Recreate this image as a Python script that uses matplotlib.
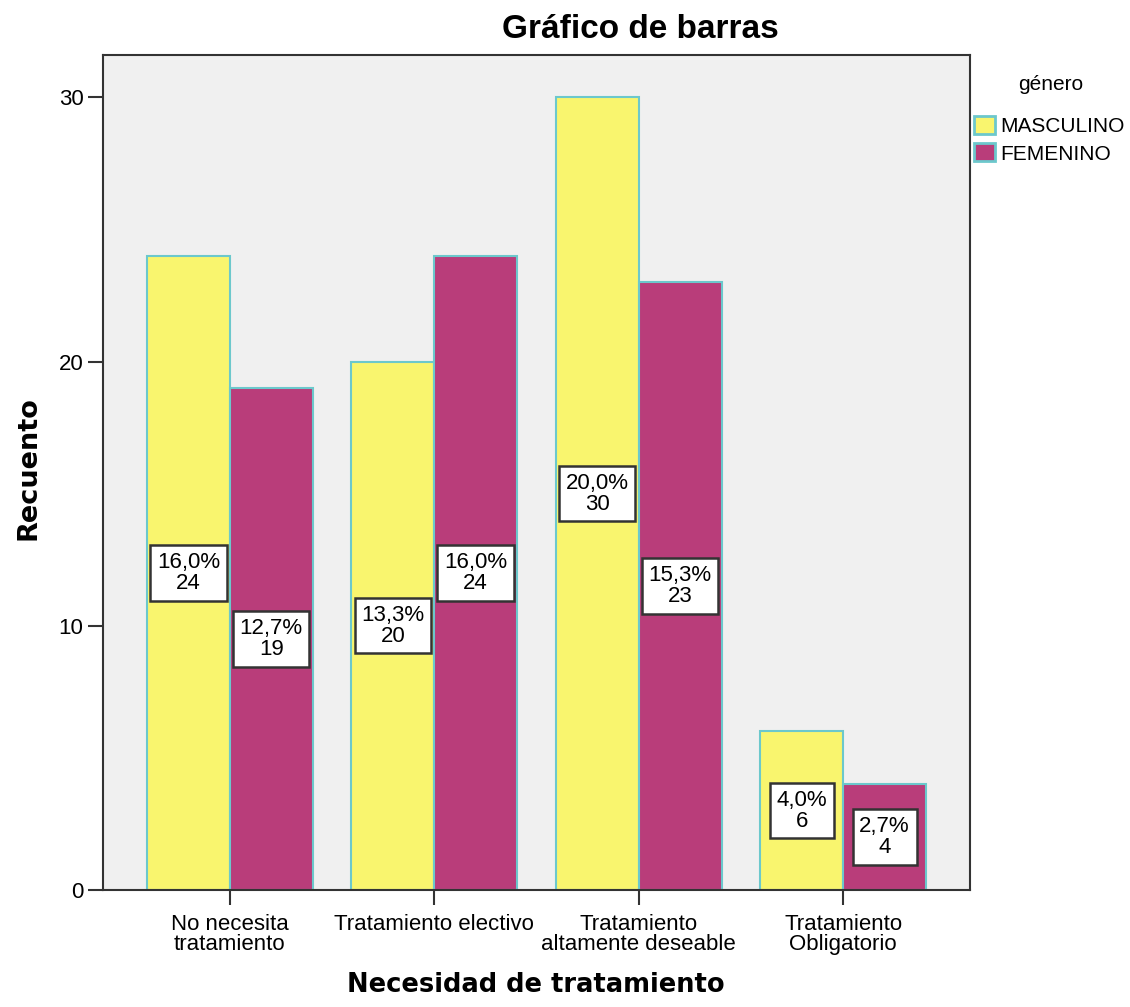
import matplotlib
matplotlib.use('Agg')
import numpy as np
import matplotlib.pyplot as plt
from matplotlib.patches import Patch

categories = ['No necesita\ntratamiento', 'Tratamiento electivo',
              'Tratamiento\naltamente deseable', 'Tratamiento\nObligatorio']
masculino = [24, 20, 30, 6]
femenino = [19, 24, 23, 4]
pct_masculino = ['16,0%', '13,3%', '20,0%', '4,0%']
pct_femenino = ['12,7%', '16,0%', '15,3%', '2,7%']
series_names = ['MASCULINO', 'FEMENINO']

YELLOW = '#F9F56E'
PURPLE = '#B93D7A'
EDGE = '#6CC8CC'
SANS = ['Liberation Sans', 'DejaVu Sans']

plt.rcParams['font.family'] = SANS

fig = plt.figure(figsize=(11.3, 10.07), dpi=100)
ax = fig.add_axes([103 / 1130, 1 - 890 / 1007, 867 / 1130, 835 / 1007])
ax.set_facecolor('#F0F0F0')

x = np.arange(len(categories))
w = 0.405
bars_m = ax.bar(x - w / 2, masculino, w, color=YELLOW, edgecolor=EDGE, linewidth=1.5, zorder=2)
bars_f = ax.bar(x + w / 2, femenino, w, color=PURPLE, edgecolor=EDGE, linewidth=1.5, zorder=2)

for bars, vals, pcts in [(bars_m, masculino, pct_masculino), (bars_f, femenino, pct_femenino)]:
    for b, v, p in zip(bars, vals, pcts):
        ax.text(b.get_x() + b.get_width() / 2, v / 2, f'{p}\n{v}', ha='center', va='center',
                fontsize=16, linespacing=1.0, zorder=3,
                bbox=dict(boxstyle='square,pad=0.3', facecolor='white', edgecolor='#333333', linewidth=1.8))

ax.set_xlim(-0.62, 3.62)
ax.set_ylim(0, 31.6)
ax.set_yticks([0, 10, 20, 30])
ax.set_xticks(x)
ax.set_xticklabels(categories, fontsize=16, linespacing=0.95)
ax.tick_params(axis='both', direction='out', length=11, width=1.5, color='#333333', labelsize=16, pad=3)
ax.tick_params(axis='x', pad=6)
for s in ax.spines.values():
    s.set_linewidth(1.5)
    s.set_color('#333333')

fig.text(640 / 1130, 1 - 30 / 1007, 'Gráfico de barras', ha='center', va='center',
         fontsize=24, fontweight='bold')
fig.text(28 / 1130, 1 - 468 / 1007, 'Recuento', ha='center', va='center', rotation=90,
         fontsize=19.5, fontweight='bold', family='DejaVu Sans')
fig.text(536 / 1130, 1 - 985 / 1007, 'Necesidad de tratamiento', ha='center', va='center',
         fontsize=18.5, fontweight='bold', family='DejaVu Sans')

# legend title placed separately (SPSS leaves a wide gap under it)
fig.text(1051 / 1130, 1 - 85 / 1007, 'género', ha='center', va='center', fontsize=15)
handles = [Patch(facecolor=YELLOW, edgecolor=EDGE, linewidth=2),
           Patch(facecolor=PURPLE, edgecolor=EDGE, linewidth=2)]
leg = fig.legend(handles, series_names, loc='upper left',
                 bbox_to_anchor=(974 / 1130, 1 - 116 / 1007), frameon=False, fontsize=15,
                 handlelength=1.0, handleheight=0.95, handletextpad=0.25,
                 labelspacing=0.35, borderpad=0, borderaxespad=0)

fig.savefig('out.png', dpi=100)
